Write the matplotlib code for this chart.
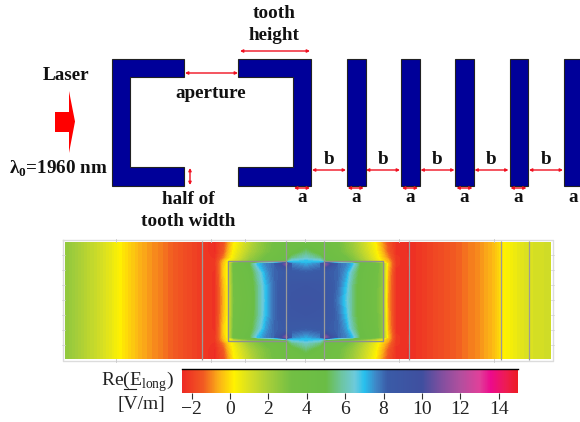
import numpy as np
import matplotlib
matplotlib.use('Agg')
import matplotlib.pyplot as plt
from matplotlib.colors import LinearSegmentedColormap, Normalize
from matplotlib.colorbar import ColorbarBase
from matplotlib.patches import Polygon

plt.rcParams['font.family'] = ['Liberation Serif', 'DejaVu Serif']
plt.rcParams['mathtext.fontset'] = 'custom'
plt.rcParams['mathtext.rm'] = 'Liberation Serif'
plt.rcParams['mathtext.bf'] = 'Liberation Serif:bold'

# colour scale (value, colour)
scale_values = [-2.5, -1.4, -0.6, 0.2, 1.0, 2.0, 3.2, 5.0, 5.8, 6.5, 7.0, 7.6, 8.2, 10.0, 11.0, 12.0, 13.0, 13.6, 14.4, 15.0]
scale_colors = ['#ee2a24', '#f15a22', '#fbb017', '#fff200', '#d7df23', '#a6ce39', '#72bf44',
                '#6abd45', '#6dc5a0', '#6dcadb', '#27c0ee', '#3f86c6', '#3a5ba7', '#3f4f9f',
                '#7f4f9f', '#b14f9e', '#e0409a', '#ec0a8c', '#ed1c50', '#ed1c24']
bar_ticks = [-2, 0, 2, 4, 6, 8, 10, 12, 14]
bar_labels = ['\u22122', '0', '2', '4', '6', '8', '10', '12', '14']

# field values, top half only, the bottom half is the mirror
field_x = [65, 95, 112, 122, 140, 170, 200, 215, 224, 228, 234, 250, 258, 266, 274, 286, 292, 306,
           320, 326, 338, 346, 352, 360, 375, 382, 388, 396, 410, 450, 480, 495, 505, 525, 551]
field_y = [242, 252, 258, 261, 264, 272, 285, 300.5]
r242 = [2.5, 1.3, 0.6, 0.1, -0.6, -1.3, -2.1, -2.4, -1.6, -0.9, 0.1, 1.5, 2.2, 2.8, 3.2, 3.8, 4.0, 4.3,
        4.0, 3.8, 3.2, 2.6, 2.2, 1.5, 0.2, -0.8, -1.6, -2.3, -2.4, -1.5, -0.9, -0.4, 0.2, 0.9, 1.2]
r252 = [2.5, 1.3, 0.6, 0.1, -0.6, -1.3, -2.1, -2.4, -1.4, -0.6, 0.3, 1.8, 2.4, 2.9, 3.3, 4.0, 4.5, 5.4,
        4.5, 4.0, 3.3, 2.8, 2.4, 1.7, 0.4, -0.5, -1.4, -2.3, -2.4, -1.5, -0.9, -0.4, 0.2, 0.9, 1.2]
r258 = [2.5, 1.3, 0.6, 0.1, -0.6, -1.3, -2.1, -2.3, -1.0, -0.3, 0.5, 2.2, 2.8, 3.3, 3.7, 4.5, 5.5, 6.2,
        5.5, 4.5, 3.7, 3.2, 2.8, 2.0, 0.6, -0.2, -1.0, -2.2, -2.4, -1.5, -0.9, -0.4, 0.2, 0.9, 1.2]
r261 = [2.5, 1.3, 0.6, 0.1, -0.6, -1.3, -2.1, -2.2, -0.5, 0.2, 0.8, 2.5, 3.0, 3.5, 3.9, 5.0, 6.6, 6.9,
        6.6, 5.0, 3.9, 3.4, 3.0, 2.3, 0.8, 0.0, -0.6, -2.2, -2.4, -1.5, -0.9, -0.4, 0.2, 0.9, 1.2]
r264 = [2.5, 1.3, 0.6, 0.1, -0.6, -1.3, -2.1, -2.2, -0.3, 0.3, 3.6, 5.0, 6.9, 7.6, 8.0, 11.0, 7.6, 7.2,
        7.6, 11.0, 8.0, 7.6, 7.0, 5.0, 3.8, 2.5, -0.3, -2.2, -2.4, -1.5, -0.9, -0.4, 0.2, 0.9, 1.2]
r272 = [2.5, 1.3, 0.6, 0.1, -0.6, -1.3, -2.1, -2.3, -0.2, 0.3, 3.4, 4.6, 6.0, 7.3, 8.0, 8.3, 8.3, 8.1,
        8.3, 8.3, 8.0, 7.3, 6.0, 4.7, 3.6, 2.5, -0.6, -2.3, -2.4, -1.5, -0.9, -0.4, 0.2, 0.9, 1.2]
r285 = [2.5, 1.3, 0.6, 0.1, -0.6, -1.3, -2.1, -2.3, -0.4, 0.3, 3.2, 4.4, 5.6, 7.0, 7.9, 8.7, 8.9, 9.0,
        8.9, 8.7, 7.9, 6.9, 5.6, 4.6, 3.4, 2.5, -0.7, -2.3, -2.4, -1.5, -0.9, -0.4, 0.2, 0.9, 1.2]
r300 = [2.5, 1.3, 0.6, 0.1, -0.6, -1.3, -2.1, -2.3, -0.5, 0.3, 3.1, 4.2, 5.6, 6.9, 7.9, 8.8, 9.1, 9.2,
        9.1, 8.8, 7.7, 6.6, 5.6, 4.6, 3.3, 2.4, -0.8, -2.3, -2.4, -1.5, -0.9, -0.4, 0.2, 0.9, 1.2]
field_rows = [r242, r252, r258, r261, r264, r272, r285, r300]

# grey cuts through the field
cut_x = [201.5, 286, 324, 408.5, 501, 528.5]

# schematic geometry
bracket_left = [(184, 59), (112, 59), (112, 186), (184, 186), (184, 167), (130, 167), (130, 77), (184, 77)]
bracket_right = [(238, 59), (311, 59), (311, 186), (238, 186), (238, 167), (293, 167), (293, 77), (238, 77)]
bar_left = [347, 401, 455, 509.5, 563.5]
bar_width = 18.5
laser_arrow = [(55, 112), (69, 112), (69, 91), (75, 121.5), (69, 153), (69, 132), (55, 132)]
a_x = [302, 355.7, 410, 464.5, 518.5, 573]
b_x = [329, 383, 437.5, 491.5, 546]

fig = plt.figure(figsize=(5.8, 4.22), dpi=100)
ax = fig.add_axes([0, 0, 1, 1])
ax.set_xlim(0, 580)
ax.set_ylim(422, 0)
ax.axis('off')

cmap = LinearSegmentedColormap.from_list(
    'elong', [((v - scale_values[0]) / (scale_values[-1] - scale_values[0]), c)
              for v, c in zip(scale_values, scale_colors)], N=512)
norm = Normalize(scale_values[0], scale_values[-1])

# field
half = np.array(field_rows)
z = np.vstack([half, half[-2::-1]])
y = np.array(field_y + [601 - v for v in field_y[-2::-1]])
cs = ax.contourf(field_x, y, z, levels=np.linspace(-2.5, 15, 141), cmap=cmap, norm=norm, extend='both', antialiased=False)

ax.plot([63, 553, 553, 63, 63], [240, 240, 361, 361, 240], color='#dcdcdc', lw=1)
for tx in [116, 211, 245, 305, 399, 494]:
    ax.plot([tx, tx], [239, 242], color='#c8c8c8', lw=0.6)
    ax.plot([tx, tx], [359, 362], color='#c8c8c8', lw=0.6)
for ty in [255, 270, 285, 300, 315, 330, 345]:
    ax.plot([62, 65], [ty, ty], color='#d0d0d0', lw=0.5)
    ax.plot([551, 554], [ty, ty], color='#d0d0d0', lw=0.5)
ax.vlines(cut_x, 241, 360, color='#9a9a9a', lw=0.9)
ax.plot([286, 228, 228, 286], [261, 261, 341, 341], color='#8f8f8f', lw=1)
ax.plot([324, 383, 383, 324], [261, 261, 341, 341], color='#8f8f8f', lw=1)

# schematic
navy = '#000099'
for pts in [bracket_left, bracket_right]:
    ax.add_patch(Polygon(pts, closed=True, facecolor=navy, edgecolor='#222222', lw=0.8))
for bx in bar_left:
    ax.add_patch(Polygon([(bx, 59), (bx + bar_width, 59), (bx + bar_width, 186), (bx, 186)],
                         closed=True, facecolor=navy, edgecolor='#222222', lw=0.8, clip_on=True))
ax.add_patch(Polygon(laser_arrow, closed=True, facecolor='#ff0000', edgecolor='none'))


def red_arrow(x0, y0, x1, y1):
    ax.annotate('', xy=(x1, y1), xytext=(x0, y0),
                arrowprops=dict(arrowstyle='<|-|>', color='#f01020', lw=1.0, mutation_scale=4,
                                shrinkA=0, shrinkB=0))


red_arrow(240, 51, 310, 51)
red_arrow(185, 73, 238, 73)
red_arrow(190, 168, 190, 185)
for cx in a_x:
    red_arrow(cx - 8, 188, cx + 8, 188)
for cx in b_x:
    red_arrow(cx - 17, 170, cx + 17, 170)


def label(x, y, s, size=13.8):
    ax.text(x, y, s, ha='center', va='center', fontsize=size, fontweight='bold', color='#111111')


label(274, 13, 'tooth')
label(274, 36, 'height')
label(211, 93, 'aperture')
label(66, 75, 'Laser')
label(58, 169, '\u03bb$_{\\mathbf{0}}$=1960 nm')
label(188, 199, 'half of')
label(188, 222, 'tooth width')
for cx in a_x:
    label(cx, 197, 'a')
for cx in b_x:
    label(cx, 160, 'b')

# colour bar
cax = fig.add_axes([182 / 580, 1 - 393 / 422, 336 / 580, 24.5 / 422])
cb = ColorbarBase(cax, cmap=cmap, norm=norm, orientation='horizontal', ticks=bar_ticks)
cb.ax.set_xticklabels(bar_labels, fontsize=14, color='#222222')
cb.ax.tick_params(length=4, width=0.8, pad=2, color='#333333')
cb.outline.set_visible(False)
cax.plot([-2.5, 15], [1, 1], color='black', lw=1, transform=cax.get_xaxis_transform(), clip_on=False)
ax.text(174, 382, 'Re(E$_{\\mathrm{long}}$)', ha='right', va='center', fontsize=14, color='#222222')
ax.plot([124, 136], [389, 389], color='#222222', lw=0.8)
ax.text(141, 404, '[V/m]', ha='center', va='center', fontsize=14, color='#222222')

fig.savefig('out.png', dpi=100, facecolor='white')
